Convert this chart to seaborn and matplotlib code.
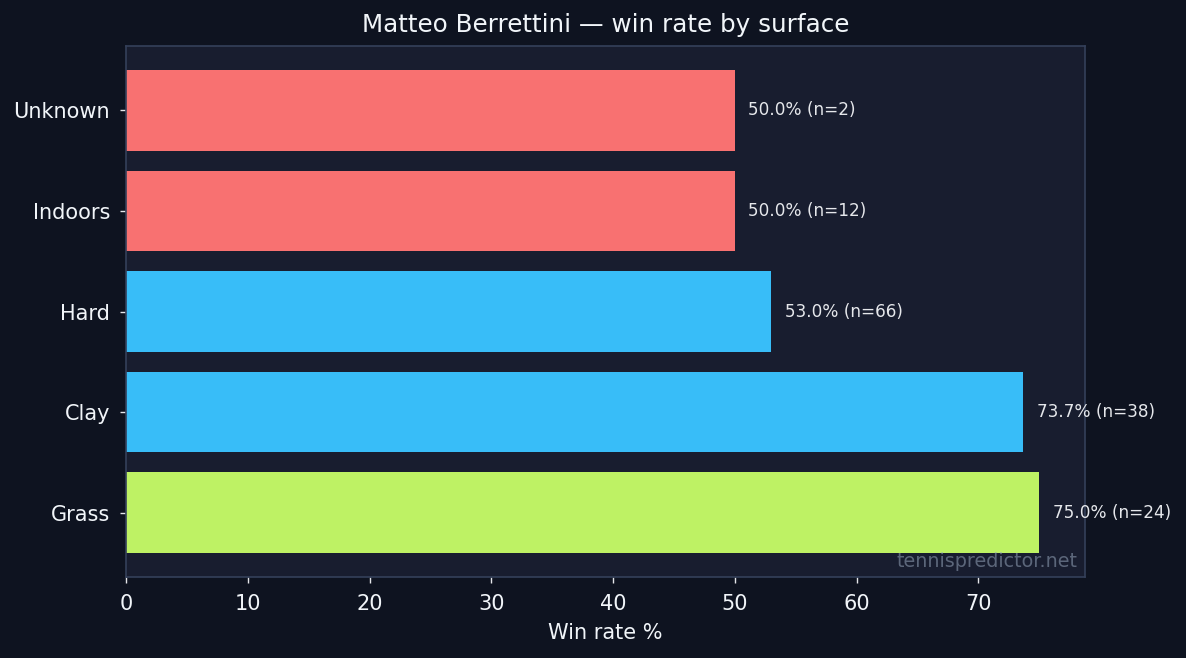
import matplotlib
matplotlib.use("Agg")
import matplotlib.pyplot as plt
import seaborn as sns
import pandas as pd

surfaces = ["Unknown", "Indoors", "Hard", "Clay", "Grass"]
win_rates = [50.0, 50.0, 53.0, 73.7, 75.0]
matches = [2, 12, 66, 38, 24]
bar_colors = ["#F87171", "#F87171", "#38BDF8", "#38BDF8", "#BEF264"]

FIG_BG = "#0e1320"
AX_BG = "#181d2f"
SPINE = "#34405a"
TEXT = "#f1f5f9"

sns.set_theme(style="dark")
plt.rcParams["font.family"] = ["DejaVu Sans"]

df = pd.DataFrame({"surface": surfaces, "win": win_rates, "n": matches})

fig = plt.figure(figsize=(11.86, 6.58), dpi=100, facecolor=FIG_BG)
ax = fig.add_axes([0.1062, 0.123, 0.8086, 0.807])
ax.set_facecolor(AX_BG)

sns.barplot(data=df, y="surface", x="win", hue="surface", order=surfaces,
            palette=dict(zip(surfaces, bar_colors)), orient="h", width=0.8,
            saturation=1, legend=False, edgecolor="none", linewidth=0, ax=ax)

xmax = max(win_rates) * 1.05
ax.set_xlim(0, xmax)
ax.set_ylim(len(surfaces) - 1 + 0.64, -0.64)

for i, (v, n) in enumerate(zip(win_rates, matches)):
    ax.text(v + 1.1, i, f"{v:.1f}% (n={n})", va="center", ha="left",
            color="#e5e7eb", fontsize=12.2)

ax.set_title("Matteo Berrettini — win rate by surface", color=TEXT, fontsize=17.7, pad=10)
ax.set_xlabel("Win rate %", color=TEXT, fontsize=15, labelpad=6)
ax.set_ylabel("")
ax.tick_params(axis="both", colors="#e5e7eb", labelcolor=TEXT, labelsize=15,
               length=4.5, width=1, left=True, bottom=True)
ax.tick_params(axis="x", pad=8)
ax.tick_params(axis="y", pad=7)
ax.set_xticks([0, 10, 20, 30, 40, 50, 60, 70])
for s in ax.spines.values():
    s.set_visible(True)
    s.set_color(SPINE)
    s.set_linewidth(1.2)
ax.grid(False)

ax.text(0.992, 0.012, "tennispredictor.net", transform=ax.transAxes,
        ha="right", va="bottom", color="#94a3b8", alpha=0.55, fontsize=13.8)

fig.savefig("out.png", dpi=100, facecolor=FIG_BG)
